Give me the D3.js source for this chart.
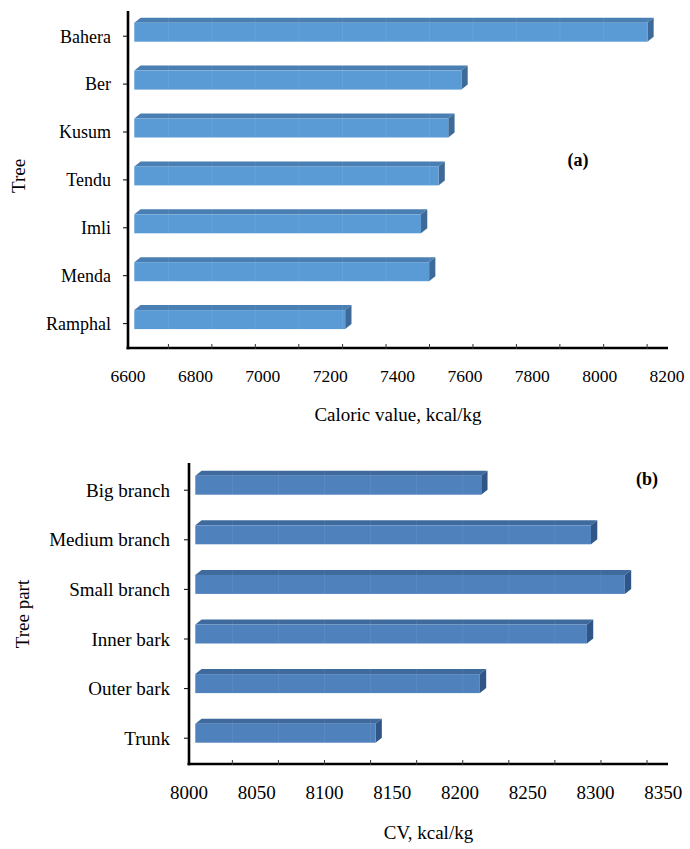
<!DOCTYPE html>
<html>
<head>
<meta charset="utf-8">
<script src="https://cdn.jsdelivr.net/npm/d3@7"></script>
<style>
  html, body { margin: 0; padding: 0; background: #fff; }
  svg { display: block; }
</style>
</head>
<body>
<svg id="chart" width="690" height="849" font-family="'Times New Roman', 'Liberation Serif', 'DejaVu Serif', serif"></svg>
<script>
// (a) caloric value by tree species
const treeNames = ["Bahera", "Ber", "Kusum", "Tendu", "Imli", "Menda", "Ramphal"];
const treeCV = [8123, 7571, 7532, 7503, 7451, 7475, 7226];
const treeTickLabels = [6600, 6800, 7000, 7200, 7400, 7600, 7800, 8000, 8200];
const treeTickMarks = [6720, 6849, 6978, 7107, 7237, 7366, 7495, 7624, 7753, 7882, 8012, 8141];

// (b) caloric value by tree part
const partNames = ["Big branch", "Medium branch", "Small branch", "Inner bark", "Outer bark", "Trunk"];
const partCV = [8211, 8292, 8317, 8289, 8210, 8133];
const partTickLabels = [8000, 8050, 8100, 8150, 8200, 8250, 8300, 8350];
const partTickMarks = [8032, 8066, 8100, 8134, 8168, 8202, 8236, 8270, 8304, 8338];

const FONT = "'Times New Roman', 'Liberation Serif', serif";
const svg = d3.select("#chart");

function barChart(cfg) {
  const g = svg.append("g");
  const x = d3.scaleLinear().domain(cfg.domain).range(cfg.xRange);
  const y = d3.scaleBand().domain(cfg.names).range(cfg.yRange);
  const dx = 6.3, dy = 5, h = 19;
  const x0 = x(cfg.domain[0]) + dx;

  const rows = cfg.names.map((n, i) => ({ name: n, value: cfg.values[i] }));
  const bar = g.selectAll("g.bar").data(rows).join("g").attr("class", "bar");

  const top = d => y(d.name) + y.bandwidth() / 2 - h / 2;
  // top face
  bar.append("path")
    .attr("fill", cfg.colors.top)
    .attr("d", d => {
      const x1 = x(d.value) + dx, t = top(d);
      return `M${x0},${t} L${x0 + dx},${t - dy} L${x1 + dx},${t - dy} L${x1},${t} Z`;
    });
  // side face
  bar.append("path")
    .attr("fill", cfg.colors.side)
    .attr("d", d => {
      const x1 = x(d.value) + dx, t = top(d);
      return `M${x1},${t} L${x1 + dx},${t - dy} L${x1 + dx},${t + h - dy} L${x1},${t + h} Z`;
    });
  // front face
  bar.append("rect")
    .attr("fill", cfg.colors.front)
    .attr("x", x0)
    .attr("y", d => top(d))
    .attr("width", d => x(d.value) + dx - x0)
    .attr("height", h);

  // faint gridlines showing over the bars
  g.selectAll("line.grid").data(cfg.tickMarks).join("line")
    .attr("x1", d => x(d)).attr("x2", d => x(d))
    .attr("y1", cfg.axisTop).attr("y2", cfg.axisY)
    .attr("stroke", "#ffffff").attr("stroke-opacity", 0.07).attr("stroke-width", 1);

  // horizontal axis with its tick marks
  g.append("line")
    .attr("x1", x(cfg.domain[0]) - 1.5).attr("x2", cfg.axisEnd)
    .attr("y1", cfg.axisY).attr("y2", cfg.axisY)
    .attr("stroke", "#000").attr("stroke-width", 2.6);
  g.selectAll("line.xt").data(cfg.tickMarks).join("line")
    .attr("x1", d => x(d)).attr("x2", d => x(d))
    .attr("y1", cfg.axisY - 4).attr("y2", cfg.axisY + 1)
    .attr("stroke", "#333").attr("stroke-width", 1);
  g.selectAll("text.xl").data(cfg.tickLabels).join("text")
    .attr("x", d => x(d)).attr("y", cfg.tickLabelY)
    .attr("text-anchor", "middle")
    .attr("font-family", FONT)
    .style("font-size", cfg.tickFont + "px")
    .text(d => d);

  // vertical axis with category labels
  g.append("line")
    .attr("x1", x(cfg.domain[0])).attr("x2", x(cfg.domain[0]))
    .attr("y1", cfg.axisTop).attr("y2", cfg.axisY + 1.3)
    .attr("stroke", "#000").attr("stroke-width", 2.6);
  g.selectAll("line.yt").data(cfg.names).join("line")
    .attr("x1", x(cfg.domain[0]) - 5).attr("x2", x(cfg.domain[0]))
    .attr("y1", d => y(d) + y.bandwidth() / 2 + cfg.labelShift)
    .attr("y2", d => y(d) + y.bandwidth() / 2 + cfg.labelShift)
    .attr("stroke", "#000").attr("stroke-width", 1);
  g.selectAll("text.yl").data(cfg.names).join("text")
    .attr("x", cfg.labelRight)
    .attr("y", d => y(d) + y.bandwidth() / 2 + cfg.labelShift)
    .attr("dy", "0.35em")
    .attr("text-anchor", "end")
    .attr("font-family", FONT)
    .style("font-size", cfg.catFont + "px")
    .text(d => d);

  // axis titles and panel tag
  g.append("text")
    .attr("x", (x(cfg.domain[0]) + cfg.axisEnd) / 2).attr("y", cfg.xTitleY)
    .attr("text-anchor", "middle")
    .attr("font-family", FONT)
    .style("font-size", cfg.titleFont + "px")
    .text(cfg.xTitle);
  g.append("text")
    .attr("transform", `translate(${cfg.yTitlePos[0]},${cfg.yTitlePos[1]}) rotate(-90)`)
    .attr("text-anchor", "middle").attr("dy", "0.35em")
    .attr("font-family", FONT)
    .style("font-size", cfg.titleFont + "px")
    .text(cfg.yTitle);
  g.append("text")
    .attr("x", cfg.tagPos[0]).attr("y", cfg.tagPos[1])
    .attr("text-anchor", "middle")
    .attr("font-family", FONT)
    .style("font-size", "18px").style("font-weight", "bold")
    .text(cfg.tag);
}

barChart({
  names: treeNames, values: treeCV,
  domain: [6600, 8200], xRange: [128, 667],
  yRange: [8.25, 343.55],
  axisTop: 11, axisY: 348, axisEnd: 668,
  tickLabels: treeTickLabels, tickMarks: treeTickMarks,
  tickLabelY: 382, tickFont: 17.5,
  labelRight: 111, labelShift: 4, catFont: 18,
  xTitle: "Caloric value, kcal/kg", xTitleY: 421,
  yTitle: "Tree", yTitlePos: [18.5, 176], titleFont: 19,
  tag: "(a)", tagPos: [578, 166],
  colors: { front: "#5b9bd5", top: "#4a7fb3", side: "#3d6a98" }
});

barChart({
  names: partNames, values: partCV,
  domain: [8000, 8350], xRange: [189, 663.3],
  yRange: [460.4, 758],
  axisTop: 463, axisY: 764, axisEnd: 668,
  tickLabels: partTickLabels, tickMarks: partTickMarks,
  tickLabelY: 799, tickFont: 19,
  labelRight: 170, labelShift: 5, catFont: 19,
  xTitle: "CV, kcal/kg", xTitleY: 839,
  yTitle: "Tree part", yTitlePos: [22, 614], titleFont: 19,
  tag: "(b)", tagPos: [647, 485],
  colors: { front: "#4f81bd", top: "#3f6a9d", side: "#2f5687" }
});
</script>
</body>
</html>
